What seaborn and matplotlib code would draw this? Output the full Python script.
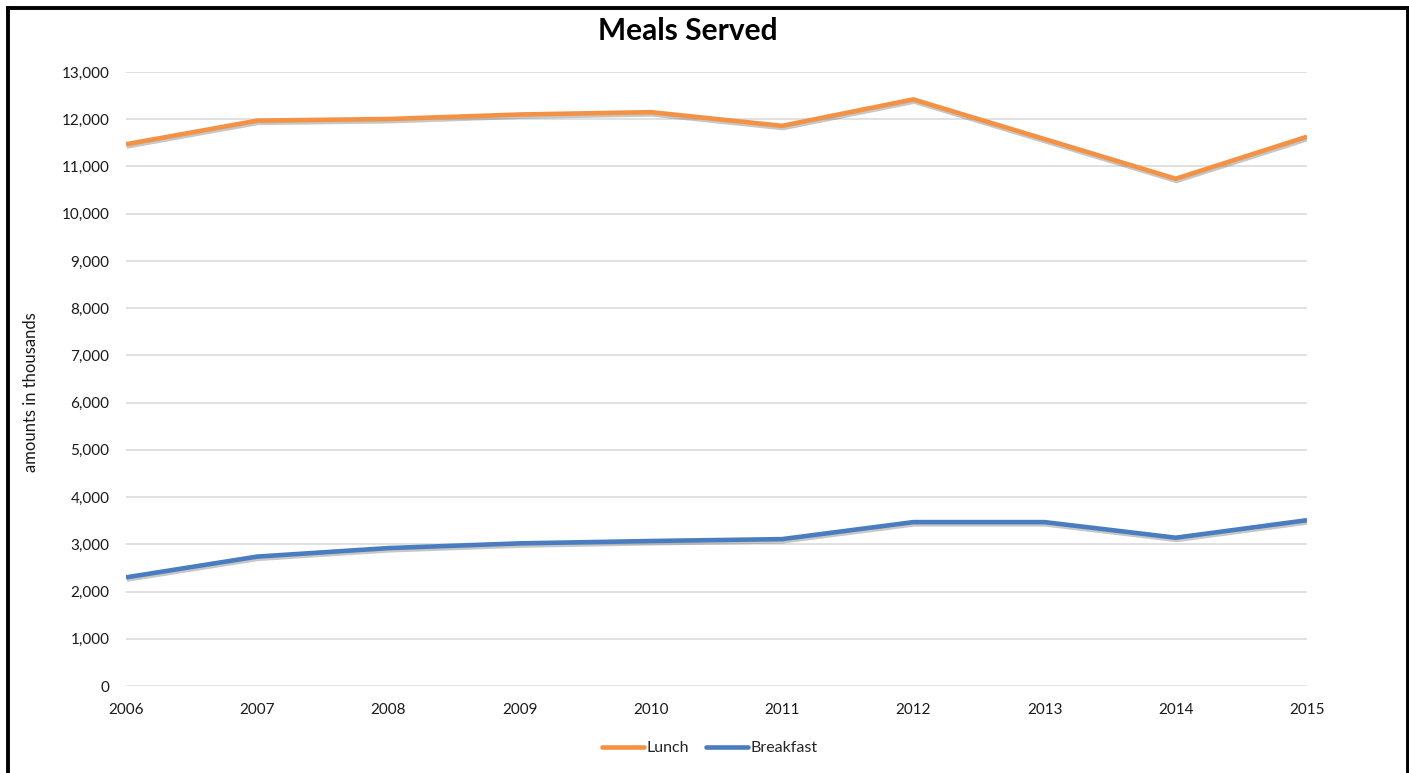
import matplotlib
matplotlib.use("Agg")
import matplotlib.pyplot as plt
import matplotlib.patheffects as pe
from matplotlib.lines import Line2D
from matplotlib.ticker import FuncFormatter, MultipleLocator
import seaborn as sns
import pandas as pd

# Meals served per year (amounts in thousands)
years = [2006, 2007, 2008, 2009, 2010, 2011, 2012, 2013, 2014, 2015]
lunch = [11470, 11970, 12005, 12100, 12150, 11860, 12420, 11580, 10740, 11630]
breakfast = [2300, 2740, 2920, 3020, 3070, 3110, 3470, 3470, 3140, 3510]
series_names = ["Lunch", "Breakfast"]

ORANGE = "#F39244"
BLUE = "#4A7DC0"
GRID = "#D9D9D9"
TEXT = "#1a1a1a"

sns.set_theme(style="white")
plt.rcParams["font.family"] = ["Lato", "DejaVu Sans"]

W, H = 1409, 773
fig = plt.figure(figsize=(W / 100, H / 100), dpi=100)
fig.patch.set_facecolor("white")

left, right, top, bottom = 126, 1307, 72, 686
ax = fig.add_axes([left / W, 1 - bottom / H, (right - left) / W, (bottom - top) / H])

df = pd.DataFrame({
    "Year": years + years,
    "Meals": lunch + breakfast,
    "Meal": [series_names[0]] * len(years) + [series_names[1]] * len(years),
})

sns.lineplot(data=df, x="Year", y="Meals", hue="Meal",
             palette={"Lunch": ORANGE, "Breakfast": BLUE},
             linewidth=3.3, ax=ax, legend=False, zorder=3)

shadow = [pe.SimpleLineShadow(offset=(0.6, -1.6), shadow_color="#606060", alpha=0.35),
          pe.Normal()]
for ln in ax.lines:
    ln.set_path_effects(shadow)
    ln.set_solid_joinstyle("round")
    ln.set_solid_capstyle("butt")

ax.set_xlim(years[0], years[-1])
ax.set_ylim(0, 13000)
ax.yaxis.set_major_locator(MultipleLocator(1000))
ax.set_xticks(years)
ax.yaxis.set_major_formatter(FuncFormatter(lambda v, p: f"{int(v):,}"))
ax.grid(axis="y", color=GRID, linewidth=1.1, zorder=0)
ax.grid(axis="x", visible=False)
for s in ax.spines.values():
    s.set_visible(False)
ax.tick_params(axis="y", length=0, pad=12, labelsize=11, labelcolor=TEXT)
ax.tick_params(axis="x", length=0, pad=12, labelsize=11, labelcolor=TEXT)
ax.set_xlabel("")
ax.set_ylabel("")

fig.text(688 / W, 1 - 31 / H, "Meals Served", ha="center", va="center",
         fontsize=21.5, fontweight="bold", color="black")
fig.text(31 / W, 1 - 392 / H, "amounts in thousands", ha="center", va="center",
         rotation=90, fontsize=12, color=TEXT)

handles = [Line2D([], [], color=ORANGE, linewidth=3.3),
           Line2D([], [], color=BLUE, linewidth=3.3)]
fig.legend(handles, series_names, loc="center", bbox_to_anchor=(710 / W, 1 - 748 / H),
           ncol=2, frameon=False, fontsize=11.5, handlelength=2.6,
           handletextpad=0.15, columnspacing=1.1, borderaxespad=0)

# Page frame around the chart
frame_kw = dict(color="black", linewidth=2.8, transform=fig.transFigure, solid_capstyle="projecting")
fig.add_artist(Line2D([7.5 / W, 7.5 / W], [1 - 8 / H, -0.01], **frame_kw))
fig.add_artist(Line2D([1407.5 / W, 1407.5 / W], [1 - 8 / H, -0.01], **frame_kw))
fig.add_artist(Line2D([7.5 / W, 1407.5 / W], [1 - 8 / H, 1 - 8 / H], **frame_kw))

fig.savefig("out.png", dpi=100, facecolor="white")
